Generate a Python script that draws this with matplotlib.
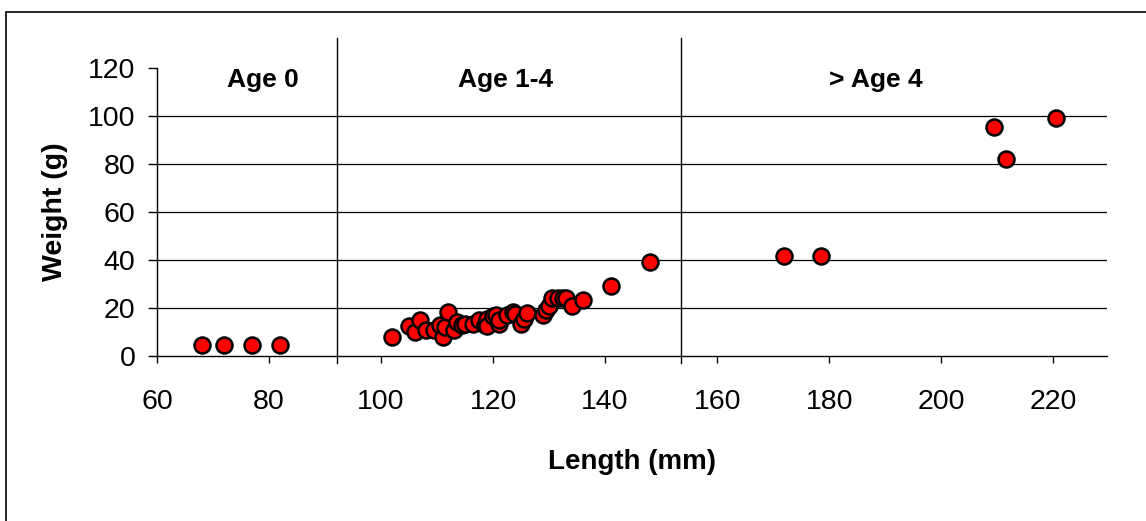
import matplotlib
matplotlib.use("Agg")
import matplotlib.pyplot as plt
from matplotlib.patches import Rectangle

# Fish length / weight data
age0_length = [68, 72, 77, 82]
age0_weight = [4.5, 4.5, 4.5, 4.5]

age14_length = [102, 105, 106, 107, 108, 109.5, 110.5, 111, 111.5, 112,
                113, 113.5, 114.5, 115, 116.5, 117.5, 118.5, 119, 119, 120,
                120.5, 121, 121, 122.5, 123.5, 124, 125, 125.5, 126, 129,
                129.5, 130, 130.5, 131.5, 132.5, 133, 134, 136, 141, 148]
age14_weight = [8, 12.5, 10, 15, 11, 11, 13, 8, 12, 18.5,
                11, 14, 13, 13.5, 13.5, 15, 13, 15.5, 12.5, 16.5,
                17, 13.5, 15, 17, 18.5, 17.5, 13.5, 15.5, 18, 17,
                19, 21, 24, 24, 24, 24, 21, 23.5, 29.3, 39.3]

age4_length = [172, 178.5, 209.5, 211.5, 220.5]
age4_weight = [41.5, 41.5, 95.5, 82, 99]

age_breaks = [92.1, 153.6]
group_labels = ["Age 0", "Age 1-4", "> Age 4"]
group_label_x = [78.9, 122.3, 188.4]

x_ticks = [60, 80, 100, 120, 140, 160, 180, 200, 220]
y_ticks = [0, 20, 40, 60, 80, 100, 120]

plt.rcParams['font.family'] = ['Liberation Sans', 'DejaVu Sans']

fig = plt.figure(figsize=(11.46, 5.21), dpi=100)
ax = fig.add_axes([157/1146, 1 - 356/521, 950/1146, 288/521])

# gridlines (not at 0 or 120)
for y in y_ticks[1:-1]:
    ax.axhline(y, color='black', lw=0.9, zorder=1)

# age group separators, sticking out above and below the plot
for xb in age_breaks:
    ax.plot([xb, xb], [-3, 132.5], color='black', lw=1.0, clip_on=False, zorder=1)

all_length = age0_length + age14_length + age4_length
all_weight = age0_weight + age14_weight + age4_weight
ax.plot(all_length, all_weight, 'o', color='red', markeredgecolor='black',
        markersize=11.5, markeredgewidth=1.8, clip_on=False, zorder=3)

for lab, lx in zip(group_labels, group_label_x):
    ax.text(lx, 112.2, lab, ha='center', va='baseline', fontsize=19,
            fontweight='bold')

ax.set_xlim(60, 229.6)
ax.set_ylim(0, 120)
ax.set_xticks(x_ticks)
ax.set_yticks(y_ticks)
ax.tick_params(axis='x', length=5, width=1, pad=19, labelsize=20.5)
ax.tick_params(axis='y', length=6.5, width=1, pad=9, labelsize=20.5)

for s in ['top', 'right']:
    ax.spines[s].set_visible(False)
ax.spines['left'].set_linewidth(1)
ax.spines['bottom'].set_linewidth(1)

fig.text(55/1146, 1 - 212/521, "Weight (g)", rotation=90, ha='center', va='center',
         fontsize=20.5, fontweight='bold')
fig.text(632/1146, 1 - 462/521, "Length (mm)", ha='center', va='center',
         fontsize=20, fontweight='bold')

# outer chart frame (only left and top edges fall inside the image)
fig.patches.append(Rectangle((6/1146, -0.05), 1.1, 1.05 - 11.5/521,
                             transform=fig.transFigure, fill=False,
                             edgecolor='black', lw=1.2))

fig.savefig("out.png", dpi=100)
